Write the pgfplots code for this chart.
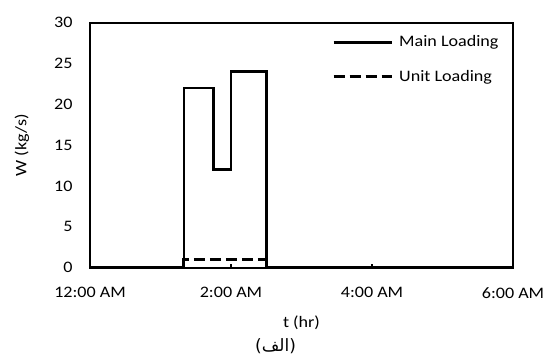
\documentclass[border=0pt]{standalone}
\usepackage{pgfplots}
\pgfplotsset{compat=1.18}
\usepackage{fontspec}
\setmainfont{Carlito}[FakeStretch=1.13]
\newfontfamily\arabicfont[Script=Arabic]{DejaVu Sans}
\TeXXeTstate=1
\begin{document}
\fontsize{16bp}{19bp}\selectfont
\begin{tikzpicture}
\useasboundingbox (-90bp,-94bp) rectangle (461bp,267.7bp);
\begin{axis}[
  at={(0,0)}, anchor=south west,
  scale only axis, width=423bp, height=245bp,
  xmin=0, xmax=6, ymin=0, ymax=30,
  xtick={0,2,4,6}, xticklabels={12:00 AM,2:00 AM,4:00 AM,6:00 AM},
  ytick={0,5,10,15,20,25,30},
  /pgf/number format/assume math mode=true,
  axis line style={line width=2bp, black},
  xtick pos=bottom, xtick align=inside,
  x tick style={line width=1.2bp, black}, major tick length=4bp,
  ytick style={draw=none},
  tick label style={font=\fontsize{16bp}{19bp}\selectfont, text=black},
  xticklabel style={yshift=-14bp},
  yticklabel style={xshift=-12bp},
  clip=false,
  legend style={draw=none, fill=none, at={(axis description cs:0.565,0.965)}, anchor=north west,
    row sep=17bp, font=\fontsize{16bp}{19bp}\selectfont,
    /tikz/every odd column/.append style={column sep=4bp}},
  legend cell align=left,
  legend image code/.code={\draw[#1] (0bp,0bp) -- (58bp,0bp);},
]
\addplot[black, line width=2.8bp] coordinates {
  (0,0) (1.333,0) (1.333,22) (1.75,22) (1.75,12) (2,12) (2,24) (2.5,24) (2.5,0) (6,0)};
\addlegendentry{Main Loading}
\addplot[black, line width=3bp, dash pattern=on 11bp off 5bp] coordinates {
  (0,0) (1.333,0) (1.333,1) (2.5,1) (2.5,0) (6,0)};
\addlegendentry{Unit Loading}
\end{axis}
\node at (211.5bp,-55bp) {t (hr)};
\node[rotate=90] at (-68bp,122.5bp) {W (kg/s)};
\node at (185.5bp,-78bp) {\arabicfont\fontsize{17bp}{20bp}\selectfont\beginR(الف)\endR};
\end{tikzpicture}
\end{document}
